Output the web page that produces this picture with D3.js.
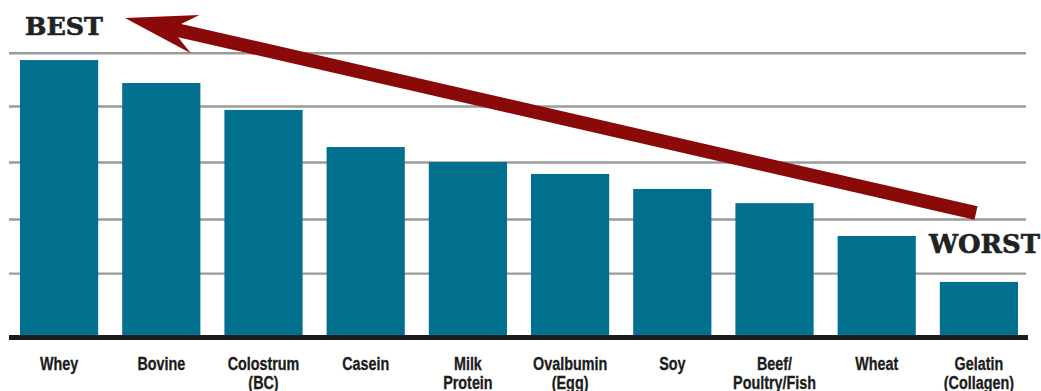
<!DOCTYPE html>
<html>
<head>
<meta charset="utf-8">
<script src="https://cdn.jsdelivr.net/npm/d3@7"></script>
<style>
  body { margin: 0; background: #fff; }
  svg { display: block; }
</style>
</head>
<body>
<svg id="chart"></svg>
<script>
// protein sources, best to worst
var categories = ["Whey", "Bovine", "Colostrum\n(BC)", "Casein", "Milk\nProtein",
                  "Ovalbumin\n(Egg)", "Soy", "Beef/\nPoultry/Fish", "Wheat", "Gelatin\n(Collagen)"];
var values = [97.4, 89.3, 79.8, 66.7, 61.4, 57.2, 51.9, 46.9, 35.3, 19.1];
var gridValues = [22.2, 41.3, 61.4, 81.2, 100];

var width = 1041, height = 391;

var svg = d3.select("#chart")
    .attr("width", width)
    .attr("height", height);

// X Scale
var x = d3.scaleBand()
    .domain(categories)
    .range([20, 1018])
    .paddingInner(0.235)
    .paddingOuter(0);

// Y Scale
var y = d3.scaleLinear()
    .domain([0, 100])
    .range([336, 52.7]);

// Grid lines (behind the bars)
var yAxisCall = d3.axisLeft(y)
    .tickValues(gridValues)
    .tickSize(-1017)
    .tickFormat("");
var grid = svg.append("g")
    .attr("class", "grid")
    .attr("transform", "translate(9,0)")
    .call(yAxisCall);
grid.select(".domain").remove();
grid.selectAll(".tick line")
    .attr("stroke", "#9b9b9b")
    .attr("stroke-width", 2.4);

// Bars
svg.selectAll("rect.bar")
    .data(values)
    .enter()
    .append("rect")
        .attr("class", "bar")
        .attr("x", function(d, i){ return x(categories[i]); })
        .attr("y", function(d){ return y(d); })
        .attr("width", x.bandwidth())
        .attr("height", function(d){ return y(0) - y(d); })
        .attr("fill", "#016f8e");

// Baseline
svg.append("line")
    .attr("x1", 9).attr("x2", 1028)
    .attr("y1", y(0) + 1.5).attr("y2", y(0) + 1.5)
    .attr("stroke", "#1c1c1c")
    .attr("stroke-width", 5);

// Category labels, one text per line
categories.forEach(function(d){
    d.split("\n").forEach(function(line, i){
        svg.append("text")
            .attr("class", "cat")
            .attr("transform", "translate(" + (x(d) + x.bandwidth() / 2) + "," + (370 + i * 18.5) + ") scale(0.82,1)")
            .attr("text-anchor", "middle")
            .attr("font-family", "'Liberation Sans Narrow', 'Liberation Sans', Arial, sans-serif")
            .attr("font-weight", "bold")
            .attr("font-size", "17.5px")
            .attr("stroke", "#1c1c1c")
            .attr("stroke-width", 0.3)
            .attr("fill", "#1c1c1c")
            .text(line);
    });
});

// Arrow from worst to best
var tail = [976, 213], tip = [125, 18];
var dx = tail[0] - tip[0], dy = tail[1] - tip[1];
var len = Math.sqrt(dx * dx + dy * dy);
var ux = dx / len, uy = dy / len, px = -uy, py = ux;
function pt(a, p){ return [tip[0] + ux * a + px * p, tip[1] + uy * a + py * p]; }
var shaft = 6.8, barbAlong = 72, barbOut = 19.6, notch = 56;
var arrowPts = [
    pt(0, 0),
    pt(barbAlong, -barbOut),
    pt(notch, -shaft),
    pt(len, -shaft),
    pt(len, shaft),
    pt(notch, shaft),
    pt(barbAlong, barbOut)
];
svg.append("path")
    .attr("d", d3.line()(arrowPts) + "Z")
    .attr("fill", "#8a0a0a");

// BEST / WORST labels
svg.append("text")
    .attr("x", 25)
    .attr("y", 35)
    .attr("font-family", "'DejaVu Serif', serif")
    .attr("font-weight", "bold")
    .attr("font-size", "25px")
    .attr("textLength", 78)
    .attr("lengthAdjust", "spacingAndGlyphs")
    .attr("stroke", "#222")
    .attr("stroke-width", 0.6)
    .attr("fill", "#222")
    .text("BEST");

svg.append("text")
    .attr("x", 929)
    .attr("y", 253)
    .attr("font-family", "'DejaVu Serif', serif")
    .attr("font-weight", "bold")
    .attr("font-size", "26px")
    .attr("textLength", 111)
    .attr("lengthAdjust", "spacingAndGlyphs")
    .attr("stroke", "#222")
    .attr("stroke-width", 0.6)
    .attr("fill", "#222")
    .text("WORST");
</script>
</body>
</html>
